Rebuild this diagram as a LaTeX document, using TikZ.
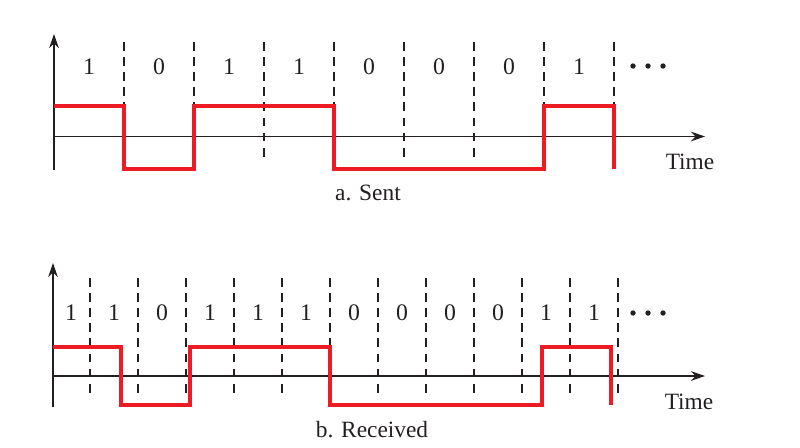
\documentclass[tikz,border=0pt]{standalone}
\usepackage{fontspec}
\setmainfont{Liberation Serif}
\definecolor{signalred}{RGB}{237,28,36}
\definecolor{axisgray}{RGB}{35,31,32}
\usetikzlibrary{arrows.meta}
\tikzset{
    axisline/.style={line width=0.75pt, axisgray, -{Stealth[length=8pt,width=5.5pt]}},
    slotline/.style={line width=0.7pt, axisgray, dash pattern=on 5pt off 3.6pt},
    signal/.style={line width=2.8pt, signalred, line join=miter},
    bitlabel/.style={font=\fontsize{13.5}{15}\selectfont, text=axisgray},
    caption/.style={font=\fontsize{13.3}{16}\selectfont, text=axisgray}
}

\begin{document}
\begin{tikzpicture}[x=0.02cm,y=-0.02cm]
    \useasboundingbox (0,0) rectangle (800,447);

    % a. Sent
    \draw[axisline] (54,170) -- (54,34);
    \draw[axisline] (54,136.5) -- (705,136.5);
    \foreach \x in {124,194,...,614} {
        \draw[slotline] (\x,42) -- (\x,157);
    }
    \foreach \b [count=\i] in {1,0,1,1,0,0,0,1} {
        \node[bitlabel] (sent\i) at ({19+70*\i},67) {\b};
    }
    \foreach \x in {633,648,663} {
        \fill[axisgray] (\x,66) circle (2.7);
    }
    \draw[signal] (54,106) -- (124,106) -- (124,169) -- (194,169) -- (194,106)
        -- (334,106) -- (334,169) -- (544,169) -- (544,106) -- (614,106) -- (614,169);
    \node[caption] (timeA) at (690,162) {Time};
    \node[caption] (capSent) at (368,193) {a. Sent};

    % b. Received
    \draw[axisline] (53,407) -- (53,263);
    \draw[axisline] (53,376) -- (705,376);
    \foreach \x in {90,138,...,618} {
        \draw[slotline] (\x,278) -- (\x,393);
    }
    \foreach \b/\x [count=\i] in {1/71,1/114,0/162,1/210,1/258,1/306,0/354,0/402,0/450,0/498,1/546,1/594} {
        \node[bitlabel] (recv\i) at (\x,313) {\b};
    }
    \foreach \x in {633,648,663} {
        \fill[axisgray] (\x,313) circle (2.7);
    }
    \draw[signal] (53,347) -- (121,347) -- (121,405) -- (190,405) -- (190,347)
        -- (330,347) -- (330,405) -- (542,405) -- (542,347) -- (611,347) -- (611,405);
    \node[caption] (timeB) at (689,402) {Time};
    \node[caption] (capReceived) at (372,430) {b. Received};
\end{tikzpicture}
\end{document}
